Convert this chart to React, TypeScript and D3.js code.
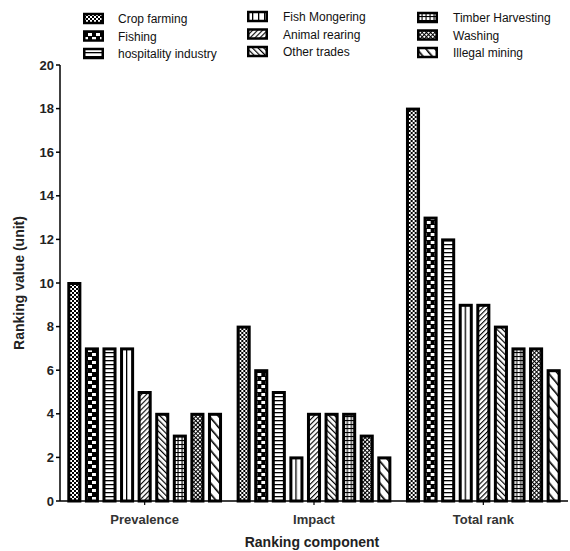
import React from "react";
import * as d3 from "d3";

const groups = ["Prevalence", "Impact", "Total rank"];
const series = [
  "Crop farming",
  "Fishing",
  "hospitality industry",
  "Fish Mongering",
  "Animal rearing",
  "Other trades",
  "Timber Harvesting",
  "Washing",
  "Illegal mining",
];
const prevalence = [10, 7, 7, 7, 5, 4, 3, 4, 4];
const impact = [8, 6, 5, 2, 4, 4, 4, 3, 2];
const totalRank = [18, 13, 12, 9, 9, 8, 7, 7, 6];
const yTicks = [0, 2, 4, 6, 8, 10, 12, 14, 16, 18, 20];

const groupValues = [prevalence, impact, totalRank];
const patternIds = ["p0", "p1", "p2", "p3", "p4", "p5", "p6", "p7", "p8"];

const W = 570;
const H = 551;
const left = 60;
const right = 568;
const top = 65;
const bottom = 501;
const font = "'Liberation Sans', Arial, sans-serif";

function Patterns() {
  return (
    <defs>
      <pattern id="p0" patternUnits="userSpaceOnUse" width="4" height="4">
        <rect width="4" height="4" fill="#fff" />
        <rect width="2" height="2" fill="#000" />
        <rect x="2" y="2" width="2" height="2" fill="#000" />
      </pattern>
      <pattern id="p1" patternUnits="userSpaceOnUse" width="8" height="8">
        <rect width="8" height="8" fill="#000" />
        <rect x="0" y="1" width="4" height="3" fill="#fff" />
        <rect x="4" y="5" width="4" height="3" fill="#fff" />
      </pattern>
      <pattern id="p2" patternUnits="userSpaceOnUse" width="4" height="4">
        <rect width="4" height="4" fill="#fff" />
        <rect y="0" width="4" height="1.3" fill="#000" />
      </pattern>
      <pattern id="p3" patternUnits="userSpaceOnUse" width="6" height="6">
        <rect width="6" height="6" fill="#fff" />
        <rect x="0" width="1.3" height="6" fill="#000" />
      </pattern>
      <pattern id="p4" patternUnits="userSpaceOnUse" width="3.5" height="3.5" patternTransform="rotate(45)">
        <rect width="3.5" height="3.5" fill="#fff" />
        <rect width="1.1" height="3.5" fill="#000" />
      </pattern>
      <pattern id="p5" patternUnits="userSpaceOnUse" width="4" height="4" patternTransform="rotate(-45)">
        <rect width="4" height="4" fill="#fff" />
        <rect width="1.2" height="4" fill="#000" />
      </pattern>
      <pattern id="p6" patternUnits="userSpaceOnUse" width="4" height="4">
        <rect width="4" height="4" fill="#fff" />
        <rect width="4" height="1.1" fill="#000" />
        <rect x="1.5" width="1.1" height="4" fill="#000" />
      </pattern>
      <pattern id="p7" patternUnits="userSpaceOnUse" width="3" height="3" patternTransform="rotate(45)">
        <rect width="3" height="3" fill="#fff" />
        <rect width="1" height="3" fill="#000" />
        <rect width="3" height="1" fill="#000" />
      </pattern>
      <pattern id="p8" patternUnits="userSpaceOnUse" width="7" height="7" patternTransform="rotate(-40)">
        <rect width="7" height="7" fill="#fff" />
        <rect width="1.6" height="7" fill="#000" />
      </pattern>
    </defs>
  );
}

export default function App() {
  const x0 = d3.scaleBand<string>().domain(groups).range([left, right]).padding(0);
  const x1 = d3
    .scaleBand<string>()
    .domain(series)
    .range([0, x0.bandwidth()])
    .paddingInner(0.2)
    .paddingOuter(0.415);
  const y = d3.scaleLinear().domain([0, 20]).range([bottom, top]);
  const bw = x1.bandwidth();

  const legendCols = [
    { iconX: 83, textX: 118, y0: 19 },
    { iconX: 247, textX: 283, y0: 17 },
    { iconX: 417, textX: 453, y0: 18 },
  ];

  return (
    <svg width={W} height={H} style={{ position: "absolute", left: 0, top: 0, background: "#fff" }}>
      <Patterns />
      <rect width={W} height={H} fill="#fff" />
      {series.map((s, i) => {
        const col = legendCols[Math.floor(i / 3)];
        const row = i % 3;
        const cy = col.y0 + row * 17.5;
        return (
          <g key={s}>
            <rect
              x={col.iconX + 1.25}
              y={cy - 5}
              width={18.5}
              height={9}
              fill={`url(#${patternIds[i]})`}
              stroke="#000"
              strokeWidth={2.5}
            />
            <text x={col.textX} y={cy + 4} fontFamily={font} fontSize={12} fill="#111">
              {s}
            </text>
          </g>
        );
      })}
      {groups.map((g, gi) => (
        <g key={g} transform={`translate(${x0(g)},0)`}>
          {series.map((s, si) => {
            const v = groupValues[gi][si];
            return (
              <rect
                key={s}
                x={(x1(s) as number) + 1.5}
                y={y(v) + 0.5}
                width={bw - 3}
                height={bottom - y(v) - 0.5}
                fill={`url(#${patternIds[si]})`}
                stroke="#000"
                strokeWidth={3}
              />
            );
          })}
        </g>
      ))}
      <line x1={left} x2={left} y1={top} y2={bottom} stroke="#000" strokeWidth={1.5} />
      {yTicks.map((t) => (
        <g key={t}>
          <line x1={left - 4} x2={left} y1={y(t)} y2={y(t)} stroke="#000" strokeWidth={1.5} />
          <text
            x={left - 6}
            y={y(t) + 4.5}
            textAnchor="end"
            fontFamily={font}
            fontSize={13}
            fontWeight="bold"
            fill="#222"
          >
            {t}
          </text>
        </g>
      ))}
      <line x1={left} x2={right} y1={bottom} y2={bottom} stroke="#000" strokeWidth={1.5} />
      {groups.map((g) => {
        const cx = (x0(g) as number) + x0.bandwidth() / 2;
        return (
          <g key={g}>
            <line x1={cx} x2={cx} y1={bottom} y2={bottom + 4} stroke="#000" strokeWidth={1.2} />
            <text
              x={cx}
              y={bottom + 23}
              textAnchor="middle"
              fontFamily={font}
              fontSize={13}
              fontWeight="bold"
              fill="#333"
            >
              {g}
            </text>
          </g>
        );
      })}
      <text
        x={312}
        y={547}
        textAnchor="middle"
        fontFamily={font}
        fontSize={14}
        fontWeight="bold"
        fill="#222"
      >
        Ranking component
      </text>
      <text
        transform={`translate(24,${(top + bottom) / 2}) rotate(-90)`}
        textAnchor="middle"
        fontFamily={font}
        fontSize={14}
        fontWeight="bold"
        fill="#222"
      >
        Ranking value (unit)
      </text>
    </svg>
  );
}
